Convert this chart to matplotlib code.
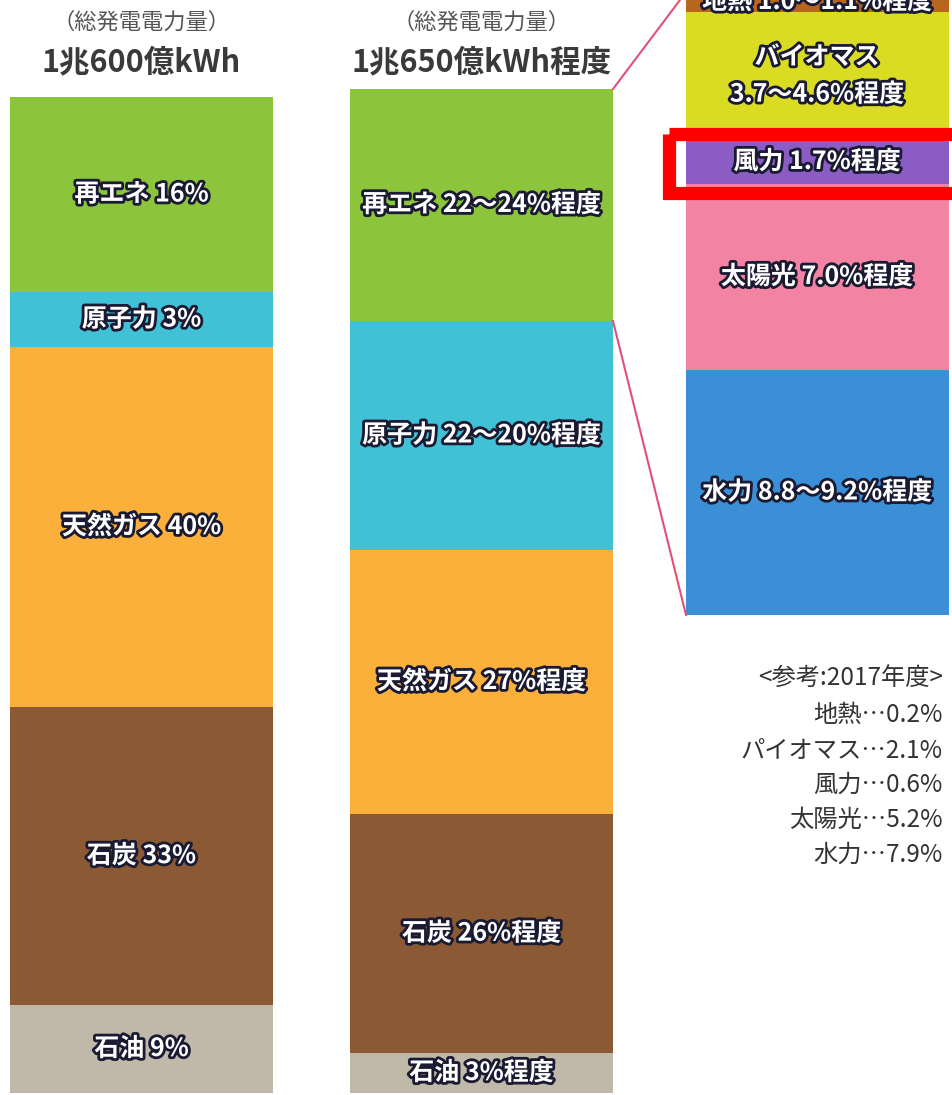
import matplotlib.pyplot as plt
import matplotlib.patheffects as pe
from matplotlib.patches import Rectangle
import numpy as np

plt.rcParams['font.family'] = ['Noto Sans CJK JP', 'DejaVu Sans']

# 電源構成 (左: 2017年度, 中: 2030年度見通し, 右: 再エネ内訳)
categories = ['再エネ', '原子力', '天然ガス', '石炭', '石油']
share_now = ['16%', '3%', '40%', '33%', '9%']
share_2030 = ['22〜24%程度', '22〜20%程度', '27%程度', '26%程度', '3%程度']
# 図の上での各区分の長さ (絵から読み取り)
bar_now = [195, 55, 360, 298, 88]
bar_2030 = [232, 229, 264, 239, 40]

re_categories = ['地熱', 'バイオマス', '風力', '太陽光', '水力']
re_share = ['1.0〜1.1%程度', '3.7〜4.6%程度', '1.7%程度', '7.0%程度', '8.8〜9.2%程度']
re_bar = [20, 128, 44, 186, 245]

ref_labels = ['地熱', 'パイオマス', '風力', '太陽光', '水力']
ref_values = ['0.2%', '2.1%', '0.6%', '5.2%', '7.9%']

colors = ['#8cc43c', '#40c1d6', '#fbb03b', '#8b5a34', '#c0b8a8']
re_colors = ['#b8651f', '#d9dc22', '#8a5cc4', '#f283a3', '#3b8fd6']

fig = plt.figure(figsize=(9.52, 10.95), dpi=100)
ax = fig.add_axes([0, 0, 1, 1])
ax.set_xlim(0, 952)
ax.set_ylim(1095, 0)
ax.axis('off')

outline = [pe.withStroke(linewidth=4, foreground='#1a1a33')]


def stacked(xc, top, sizes, cols, labels, fs=18):
    bottoms = top + np.concatenate([[0], np.cumsum(sizes)[:-1]])
    ax.bar(xc, sizes, bottom=bottoms, width=263, color=cols, align='center')
    for b, s, lab in zip(bottoms, sizes, labels):
        ax.text(xc, b + s / 2, lab, ha='center', va='center', color='white',
                fontsize=fs, fontweight='bold', linespacing=1.7, path_effects=outline)
    return bottoms


x_now, x_2030, x_re = 141.5, 481.5, 817
stacked(x_now, 97, bar_now, colors, [c + ' ' + s for c, s in zip(categories, share_now)])
b30 = stacked(x_2030, 89, bar_2030, colors, [c + ' ' + s for c, s in zip(categories, share_2030)])
re_labels = [c + ' ' + s for c, s in zip(re_categories, re_share)]
re_labels[1] = re_categories[1] + '\n' + re_share[1]
stacked(x_re, -8, re_bar, re_colors, re_labels)

# 見出し
for xc, total in [(x_now, '1兆600億kWh'), (x_2030, '1兆650億kWh程度')]:
    ax.text(xc, 22, '（総発電電力量）', ha='center', va='center', fontsize=16, color='#555555')
    ax.text(xc, 62, total, ha='center', va='center', fontsize=22, fontweight='bold', color='#3a3a3a')

# 再エネ内訳への引き出し線
ax.plot([613, 686], [b30[0], -8], color='#e0507a', lw=1.5)
ax.plot([613, 686], [b30[1], 615], color='#e0507a', lw=1.5)

# 風力の赤枠
ax.add_patch(Rectangle((669, 133.5), 300, 59, fill=False, edgecolor='#ff0000', lw=9.5))

# 参考値
ax.text(943, 678, '<参考:2017年度>', ha='right', va='center', fontsize=17.5, color='#333333')
for i, (lab, v) in enumerate(zip(ref_labels, ref_values)):
    ax.text(943, 715 + i * 35, lab + '…' + v, ha='right', va='center', fontsize=17.5, color='#333333')

fig.savefig('out.png', dpi=100)
